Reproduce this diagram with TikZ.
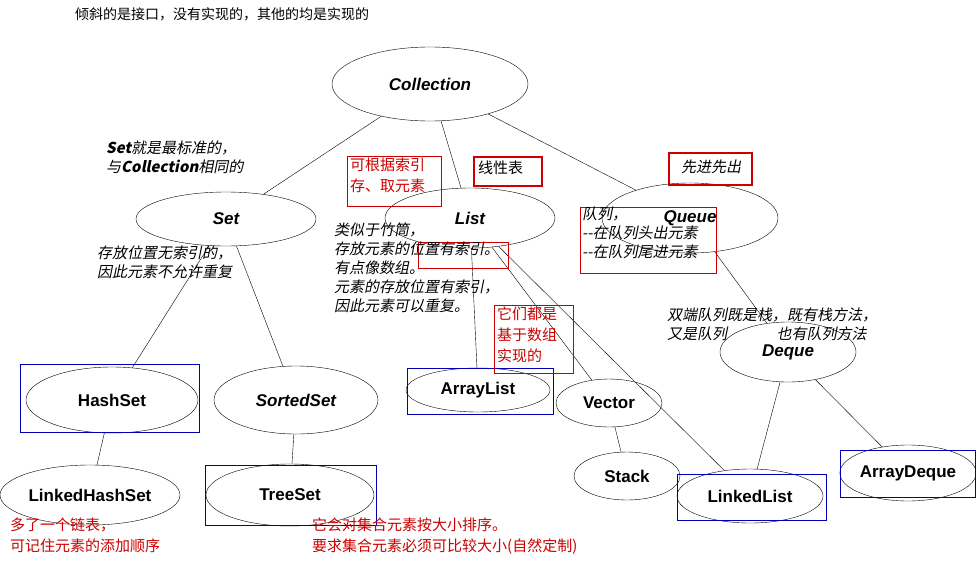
\documentclass[tikz,border=0pt]{standalone}
\usepackage{fontspec}
\setmainfont{Liberation Sans}
\newfontfamily\cjk{Noto Sans CJK SC}
\newfontfamily\cjki{Noto Sans CJK SC}[FakeSlant=0.2]
\usetikzlibrary{shapes.geometric}
\begin{document}
\begin{tikzpicture}[x=1pt,y=-1pt,
 el/.style={draw,ellipse,inner sep=0pt,font=\bfseries\fontsize{17}{19}\selectfont},
 blue box/.style={draw=blue!70!black,line width=1pt},
 red box/.style={draw=red!80!black},
 note/.style={align=left,anchor=north west,inner sep=0pt,font=\cjki\fontsize{15}{19}\selectfont},
 rnote/.style={align=left,anchor=north west,inner sep=0pt,text=red!80!black,font=\cjk\fontsize{15}{21}\selectfont}]
\useasboundingbox (0,0) rectangle (976,562);
\def\E#1#2#3#4#5#6{\node[el,minimum width=#4pt,minimum height=#5pt] (#1) at (#2,#3) {#6};}
\E{col}{430}{84}{196}{74}{\itshape Collection}
\E{set}{226}{219}{180}{54}{\itshape Set}
\E{list}{470}{218}{170}{60}{\itshape List}
\E{queue}{690}{218}{176}{70}{\itshape Queue}
\E{deque}{788}{352}{136}{60}{\itshape Deque}
\E{hs}{112}{400}{172}{66}{HashSet}
\E{ss}{296}{400}{164}{68}{\itshape SortedSet}
\E{al}{478}{390}{144}{44}{ArrayList}
\E{vec}{609}{403}{106}{48}{Vector}
\E{stk}{627}{476}{106}{48}{Stack}
\E{lhs}{90}{495}{180}{60}{LinkedHashSet}
\E{ts}{290}{495}{168}{62}{TreeSet}
\E{ll}{750}{496}{146}{54}{LinkedList}
\E{ad}{908}{473}{136}{56}{ArrayDeque}
\foreach \a/\b in {col/set,col/list,col/queue,set/hs,set/ss,hs/lhs,ss/ts,list/al,list/vec,list/ll,vec/stk,queue/deque,deque/ll,deque/ad}
  \draw (\a) -- (\b);
\draw[blue box] (20,364) rectangle (199,432);
\draw[blue box] (205,465) rectangle (376,525);
\draw[blue box] (407,368) rectangle (553,414);
\draw[blue box] (677,474) rectangle (826,520);
\draw[blue box] (840,450) rectangle (975,497);
\draw[red box] (347,156) rectangle (441,206);
\draw[red box,line width=1.5pt] (474,157) rectangle (542,186);
\draw[red box,line width=1.5pt] (669,153) rectangle (752,185);
\draw[red box] (580,207) rectangle (716,273);
\draw[red box] (418,242) rectangle (508,268);
\draw[red box] (494,305) rectangle (573,373);
\node[anchor=north west,inner sep=0pt,font=\cjk\fontsize{14}{16}\selectfont] (t) at (75,7) {倾斜的是接口，没有实现的，其他的均是实现的};
\node[note] (n1) at (106,141) {\textbf{Set}就是最标准的，\\与\textbf{Collection}相同的};
\node[note] (n2) at (97,246) {存放位置无索引的，\\因此元素不允许重复};
\node[note] (n3) at (334,223) {类似于竹筒，\\存放元素的位置有索引。\\有点像数组。\\元素的存放位置有索引，\\因此元素可以重复。};
\node[note] (n4) at (582,207) {队列，\\--在队列头出元素\\--在队列尾进元素};
\node[note] (n5) at (667,308) {双端队列既是栈，既有栈方法，\\又是队列\hspace{3.3em}也有队列方法};
\node[rnote] (r1) at (350,158) {可根据索引\\存、取元素};
\node[anchor=north west,inner sep=0pt,font=\cjk\fontsize{15}{18}\selectfont] (r2) at (478,161) {线性表};
\node[anchor=north west,inner sep=0pt,font=\cjki\fontsize{15}{18}\selectfont] (r3) at (681,160) {先进先出};
\node[rnote] (r4) at (497,307) {它们都是\\基于数组\\实现的};
\node[rnote] (r5) at (10,518) {多了一个链表，\\可记住元素的添加顺序};
\node[rnote] (r6) at (312,518) {它会对集合元素按大小排序。\\要求集合元素必须可比较大小(自然定制)};
\end{tikzpicture}
\end{document}
